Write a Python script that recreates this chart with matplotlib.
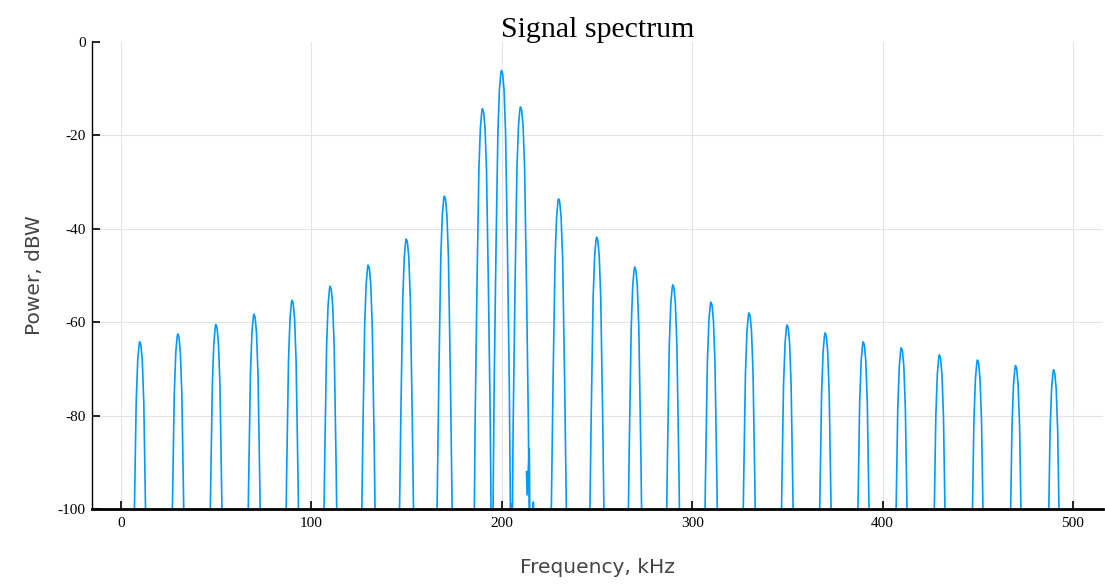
import numpy as np
import matplotlib
matplotlib.use("Agg")
import matplotlib.pyplot as plt

plt.rcParams["axes.unicode_minus"] = False

# centre frequencies of the spectral lines, kHz
centres_khz = [10, 30, 50, 70, 90, 110, 130, 150, 170, 190, 200, 210, 230,
               250, 270, 290, 310, 330, 350, 370, 390, 410, 430, 450, 470, 490]
# peak power of each line, dBW
peak_dbw = [-64.2, -62.5, -60.5, -58.3, -55.3, -52.3, -47.8, -42.2, -33.0,
            -14.3, -6.1, -13.9, -33.6, -41.8, -48.2, -52.0, -55.7, -58.0,
            -60.6, -62.3, -64.2, -65.5, -67.0, -68.1, -69.3, -70.2]
# shape of one line around its peak (offset kHz, drop dB)
lobe_offset_khz = [-5, -4, -3, -2, -1.2, -0.5, -0.2, 0.2, 0.5, 1.2, 2, 3, 4, 5]
lobe_drop_db = [-115, -68, -38, -13, -4, -0.7, 0, -0.3, -0.8, -4, -13, -38, -68, -115]
# small spurs near the carrier
spur_khz = [213.0, 213.3, 214.5, 214.8, np.nan, 204.5, 204.8, 205.1, np.nan,
            216.3, 216.6, 216.9]
spur_dbw = [-92, -97, -87, -104, np.nan, -103, -98.8, -103, np.nan,
            -104, -98.5, -104]

x_ticks = [0, 100, 200, 300, 400, 500]
y_ticks = [-100, -80, -60, -40, -20, 0]

# собираем спектр из отдельных линий
freq = []
power = []
for c, p in zip(centres_khz, peak_dbw):
    freq += [c + o for o in lobe_offset_khz]
    power += [p + d for d in lobe_drop_db]

blue = "#009AFA"

fig = plt.figure(figsize=(11.05, 5.88), dpi=100)
ax = fig.add_axes([92 / 1105, 1 - 509 / 588, (1103 - 92) / 1105, (509 - 42) / 588])

ax.plot(freq, power, color=blue, lw=1.2, zorder=3)
ax.plot(spur_khz, spur_dbw, color=blue, lw=1.2, zorder=3)

ax.set_xlim(-15.2, 515.8)
ax.set_ylim(-100, 0)
ax.set_xticks(x_ticks)
ax.set_yticks(y_ticks)
ax.grid(True, color="#E4E4E4", lw=0.8, zorder=0)
ax.set_axisbelow(True)
ax.get_ygridlines()[-1].set_visible(False)

for s in ["top", "right"]:
    ax.spines[s].set_visible(False)
ax.spines["left"].set_linewidth(1.0)
ax.spines["bottom"].set_linewidth(2.0)
ax.spines["bottom"].set_zorder(4)

ax.tick_params(direction="in", length=6, width=1.2, color="black")
ax.tick_params(axis="y", pad=4.5)
ax.tick_params(axis="x", pad=6)
for lab in ax.get_xticklabels() + ax.get_yticklabels():
    lab.set_fontfamily("Liberation Serif")
    lab.set_fontsize(11)

ax.set_xlabel("Frequency, kHz", fontsize=14.5, color="#444444",
              family="DejaVu Sans", labelpad=20)
ax.set_ylabel("Power, dBW", fontsize=14.5, color="#444444",
              family="DejaVu Sans", labelpad=10)

fig.text((92 + 1103) / 2 / 1105, 1 - 37 / 588, "Signal spectrum",
         ha="center", va="baseline", fontsize=21.5, family="Liberation Serif")

fig.savefig("out.png", dpi=100)
